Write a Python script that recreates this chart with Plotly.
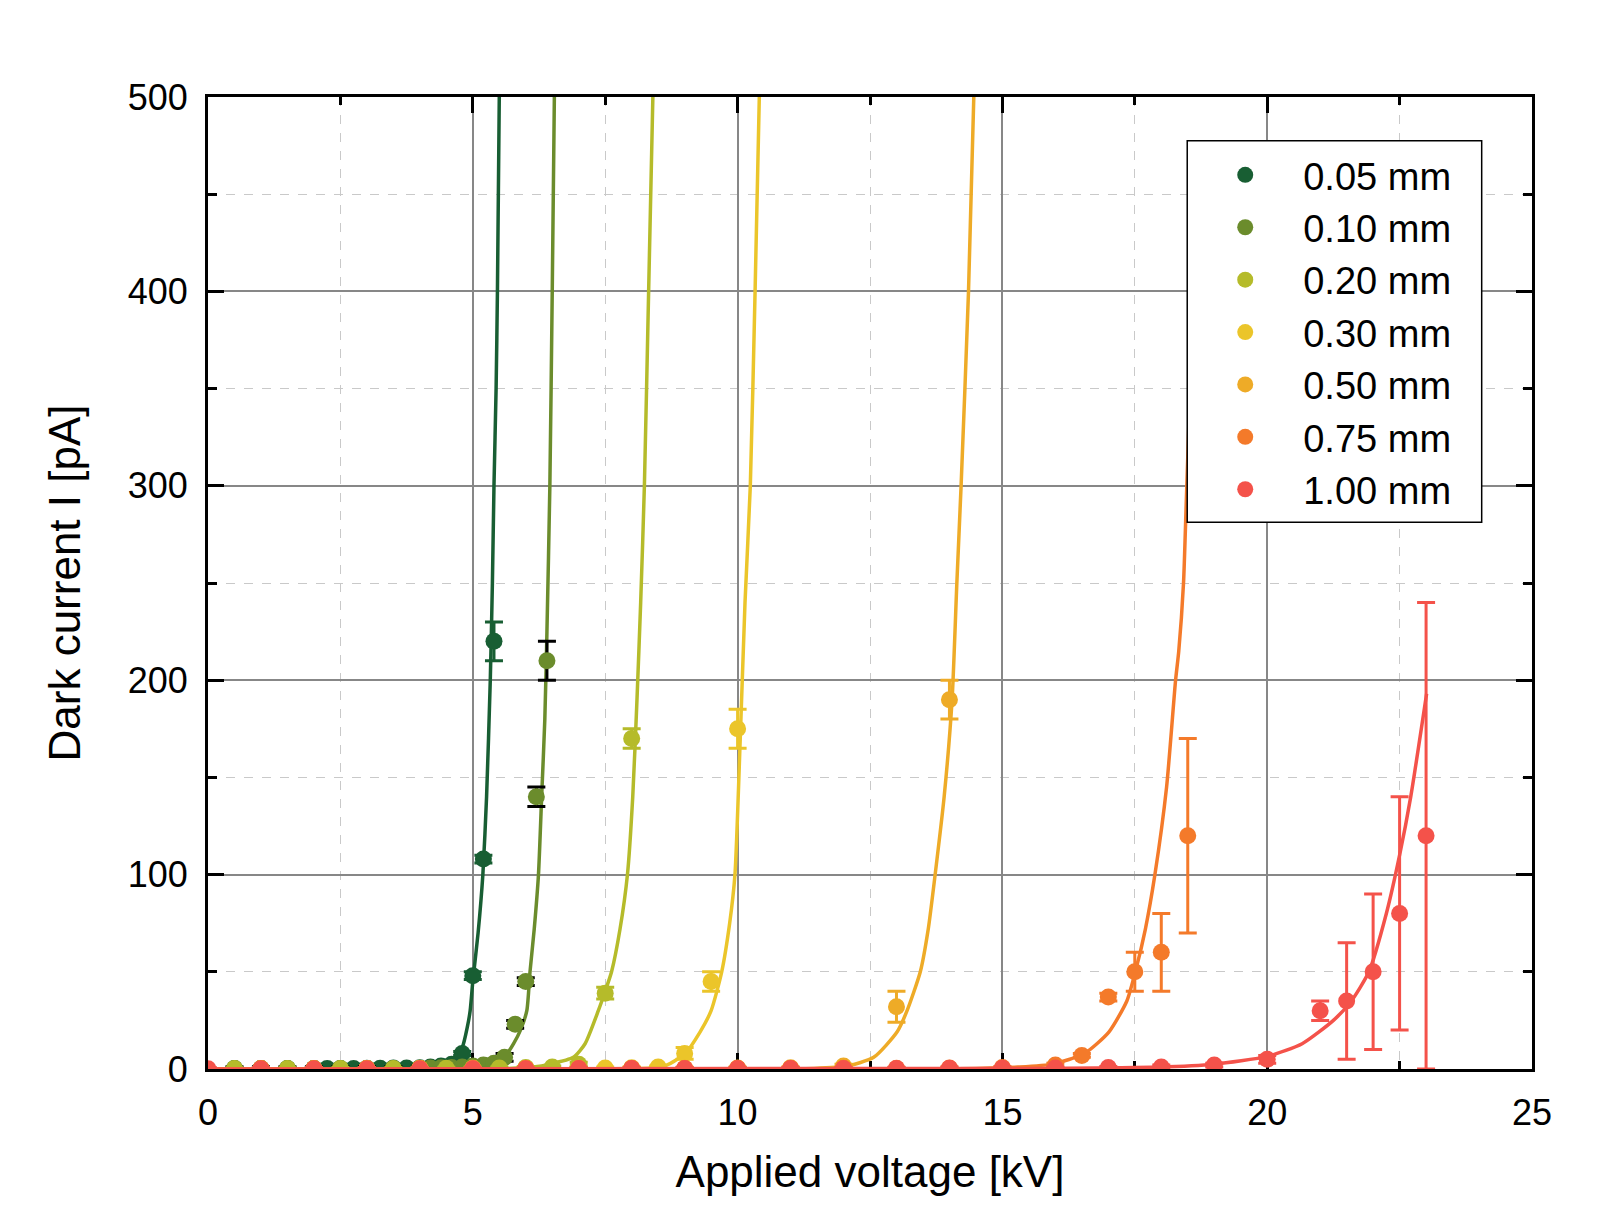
import plotly.graph_objects as go

# ---------------- data ----------------
labels = ["0.05 mm", "0.10 mm", "0.20 mm", "0.30 mm", "0.50 mm", "0.75 mm", "1.00 mm"]
colors = ["#185e33", "#6b8c2c", "#b5bb2a", "#ebc52a", "#eeab27", "#f47a2a", "#f4524a"]
err_colors = ["#185e33", "#000000", "#b5bb2a", "#ebc52a", "#eeab27", "#f47a2a", "#f4524a"]

# measured points
x_005 = [0.5, 1.0, 1.5, 2.0, 2.25, 2.5, 2.75, 3.0, 3.25, 3.5, 3.75, 4.0, 4.2, 4.4, 4.6, 4.8, 5.0, 5.2, 5.4]
y_005 = [0.2, 0.2, 0.2, 0.3, 0.3, 0.3, 0.3, 0.4, 0.4, 0.5, 0.5, 0.6, 1.0, 1.5, 2.5, 8, 48, 108, 220]
e_005 = [0.5, 0.5, 0.5, 0.5, 0.5, 0.5, 0.5, 0.5, 0.5, 0.5, 0.5, 0.5, 1, 1, 1, 1, 2, 2, 10]

x_010 = [0.5, 1.0, 1.5, 2.0, 2.5, 3.0, 3.5, 4.0, 4.2, 4.4, 4.6, 4.8, 5.0, 5.2, 5.4, 5.6, 5.8, 6.0, 6.2, 6.4]
y_010 = [0.2, 0.2, 0.2, 0.2, 0.3, 0.3, 0.3, 0.4, 0.5, 0.6, 0.8, 1.0, 1.5, 2, 3, 6, 23, 45, 140, 210]
e_010 = [1, 1, 1, 1, 1, 1, 1, 1, 2, 2, 2, 2, 2, 2, 2, 2, 2, 2, 5, 10]

x_020 = [0.5, 1.0, 1.5, 2.0, 2.5, 3.0, 3.5, 4.0, 4.5, 5.0, 5.5, 6.0, 6.5, 7.0, 7.5, 8.0]
y_020 = [0.2, 0.2, 0.2, 0.2, 0.3, 0.3, 0.3, 0.4, 0.4, 0.5, 0.5, 0.8, 1.0, 2.5, 39, 170]
e_020 = [0.5, 0.5, 0.5, 0.5, 0.5, 0.5, 0.5, 0.5, 0.5, 0.5, 0.5, 0.5, 0.5, 1, 3, 5]

x_030 = [1, 2, 3, 4, 5, 6, 7, 7.5, 8, 8.5, 9, 9.5, 10]
y_030 = [0.1, 0.1, 0.2, 0.2, 0.3, 0.3, 0.4, 0.5, 0.6, 1.0, 8, 45, 175]
e_030 = [0.5, 0.5, 0.5, 0.5, 0.5, 0.5, 0.5, 0.5, 0.5, 0.5, 3, 5, 10]

x_050 = [1, 2, 3, 4, 5, 6, 7, 8, 9, 10, 11, 12, 13, 14]
y_050 = [0.1, 0.1, 0.1, 0.2, 0.2, 0.2, 0.3, 0.3, 0.4, 0.5, 0.6, 1.5, 32, 190]
e_050 = [0.5, 0.5, 0.5, 0.5, 0.5, 0.5, 0.5, 0.5, 0.5, 0.5, 0.5, 1, 8, 10]

x_075 = [1, 2, 3, 4, 5, 6, 7, 8, 9, 10, 11, 12, 13, 14, 15, 16, 16.5, 17, 17.5, 18, 18.5]
y_075 = [0.1, 0.1, 0.1, 0.1, 0.2, 0.2, 0.2, 0.2, 0.3, 0.3, 0.3, 0.4, 0.4, 0.5, 0.8, 2, 7, 37, 50, 60, 120]
e_075 = [0.5, 0.5, 0.5, 0.5, 0.5, 0.5, 0.5, 0.5, 0.5, 0.5, 0.5, 0.5, 0.5, 0.5, 0.5, 1, 1, 2, 10, 20, 50]

x_100 = [0, 1, 2, 3, 4, 5, 6, 7, 8, 9, 10, 11, 12, 13, 14, 15, 16, 17, 18, 19, 20, 21, 21.5, 22, 22.5, 23]
y_100 = [0.1, 0.1, 0.1, 0.1, 0.1, 0.1, 0.1, 0.2, 0.2, 0.2, 0.2, 0.3, 0.3, 0.3, 0.4, 0.4, 0.5, 0.8, 1.0, 2, 5, 30, 35, 50, 80, 120]
e_100 = [0.5, 0.5, 0.5, 0.5, 0.5, 0.5, 0.5, 0.5, 0.5, 0.5, 0.5, 0.5, 0.5, 0.5, 0.5, 0.5, 0.5, 0.5, 1, 1, 2, 5, 30, 40, 60, 120]

# fitted curves
fx_005 = [0.0, 3.5, 4.0, 4.3, 4.5, 4.65, 4.8, 4.9, 4.95, 5.0, 5.1, 5.19, 5.26, 5.33, 5.37, 5.40, 5.44, 5.465, 5.50]
fy_005 = [0.0, 0.1, 0.3, 1.2, 3, 6, 11, 22, 30, 45, 70, 100, 140, 200, 250, 300, 350, 400, 500]

fx_010 = [0.0, 4.5, 5.0, 5.3, 5.52, 5.65, 5.77, 5.9, 6.02, 6.08, 6.16, 6.24, 6.30, 6.36, 6.40, 6.455, 6.50, 6.54]
fy_010 = [0.0, 0.1, 0.4, 1.5, 4.5, 8, 13, 20, 30, 50, 72, 100, 140, 180, 225, 300, 400, 500]

fx_020 = [0.0, 5.5, 6.14, 6.46, 6.9, 7.12, 7.37, 7.5, 7.62, 7.78, 7.92, 8.02, 8.10, 8.17, 8.24, 8.32, 8.40]
fy_020 = [0.0, 0.2, 1.0, 2.5, 6, 13, 30, 40, 50, 72, 100, 140, 190, 240, 300, 400, 500]

fx_030 = [0.0, 7.5, 8.0, 8.35, 8.66, 9.01, 9.29, 9.5, 9.70, 9.85, 9.95, 10.05, 10.14, 10.24, 10.33, 10.41]
fy_030 = [0.0, 0.1, 0.2, 0.5, 2, 8, 19, 30, 50, 75, 100, 170, 240, 300, 400, 500]

fx_050 = [0.0, 10.5, 11.0, 11.43, 12.06, 12.57, 13.01, 13.2, 13.45, 13.6, 13.73, 13.9, 14.05, 14.14, 14.22, 14.36, 14.46]
fy_050 = [0.0, 0.05, 0.1, 0.3, 1.5, 6, 19, 30, 50, 72, 100, 140, 190, 250, 300, 400, 500]

fx_075 = [0.0, 14.0, 14.5, 15.29, 15.95, 16.55, 17.01, 17.35, 17.51, 17.7, 17.88, 18.1, 18.27, 18.33, 18.42, 18.47, 18.53, 18.58]
fy_075 = [0.0, 0.1, 0.3, 1, 2.5, 8, 19, 35, 50, 72, 100, 145, 200, 215, 250, 290, 340, 390]

fx_100 = [0.0, 15.5, 17.94, 19.0, 20.0, 20.66, 21.25, 21.59, 21.92, 22.25, 22.5, 22.71, 23.01]
fy_100 = [0.0, 0.3, 1.0, 2.5, 6.5, 13, 25, 35, 50, 80, 110, 140, 193]

x_ticks = [0, 5, 10, 15, 20, 25]
y_ticks = [0, 100, 200, 300, 400, 500]

points = [(x_005, y_005, e_005), (x_010, y_010, e_010), (x_020, y_020, e_020),
          (x_030, y_030, e_030), (x_050, y_050, e_050), (x_075, y_075, e_075),
          (x_100, y_100, e_100)]
curves = [(fx_005, fy_005), (fx_010, fy_010), (fx_020, fy_020), (fx_030, fy_030),
          (fx_050, fy_050), (fx_075, fy_075), (fx_100, fy_100)]

FONT = "Arial, 'Liberation Sans', Helvetica, sans-serif"

fig = go.Figure()
for i, lab in enumerate(labels):
    cx, cy = curves[i]
    fig.add_trace(go.Scatter(
        x=cx, y=cy, mode="lines", showlegend=False, hoverinfo="skip",
        line=dict(color=colors[i], width=3.5, shape="spline", smoothing=0.6),
    ))
    px, py, pe = points[i]
    fig.add_trace(go.Scatter(
        x=px, y=py, mode="markers", name=lab,
        marker=dict(color=colors[i], size=17, line=dict(width=0)),
        error_y=dict(type="data", array=pe, visible=True, color=err_colors[i],
                     thickness=3, width=9),
    ))

axis_common = dict(
    showline=True, linewidth=3, linecolor="black", mirror="ticks",
    ticks="inside", ticklen=16, tickwidth=3, tickcolor="black",
    showgrid=True, gridcolor="#878787", gridwidth=1.5,
    zeroline=False, layer="below traces",
    tickfont=dict(family=FONT, size=36, color="black"),
)

# legend frame (white box with black border, drawn above the curves)
fig.add_shape(type="rect", xref="paper", yref="paper",
              x0=0.7396, x1=0.962, y0=0.5625, y1=0.955,
              fillcolor="white", line=dict(color="black", width=1.5), layer="above")

fig.update_layout(
    width=1609, height=1232,
    margin=dict(l=208, r=77, t=97, b=163),
    paper_bgcolor="white", plot_bgcolor="white",
    font=dict(family=FONT, color="black"),
    xaxis=dict(
        range=[0, 25], tickvals=x_ticks, ticktext=[str(v) for v in x_ticks],
        title=dict(text="Applied voltage [kV]", font=dict(family=FONT, size=44), standoff=24),
        minor=dict(dtick=2.5, tick0=0, showgrid=True, griddash="dash", gridcolor="#c9c9c9",
                   gridwidth=1.2, ticks="inside", ticklen=8, tickwidth=3, tickcolor="black"),
        ticklabelstandoff=10,
        **axis_common,
    ),
    yaxis=dict(
        range=[0, 500], tickvals=y_ticks, ticktext=[str(v) for v in y_ticks],
        title=dict(text="Dark current I [pA]", font=dict(family=FONT, size=44), standoff=34),
        minor=dict(dtick=50, tick0=0, showgrid=True, griddash="dash", gridcolor="#c9c9c9",
                   gridwidth=1.2, ticks="inside", ticklen=9, tickwidth=3, tickcolor="black"),
        ticklabelstandoff=10,
        **axis_common,
    ),
    legend=dict(
        x=0.7396, y=0.952, xanchor="left", yanchor="top",
        bgcolor="rgba(0,0,0,0)", borderwidth=0,
        font=dict(family=FONT, size=38, color="black"),
        itemwidth=106, itemsizing="trace", tracegroupgap=0,
    ),
)

fig.write_html("out.html")
